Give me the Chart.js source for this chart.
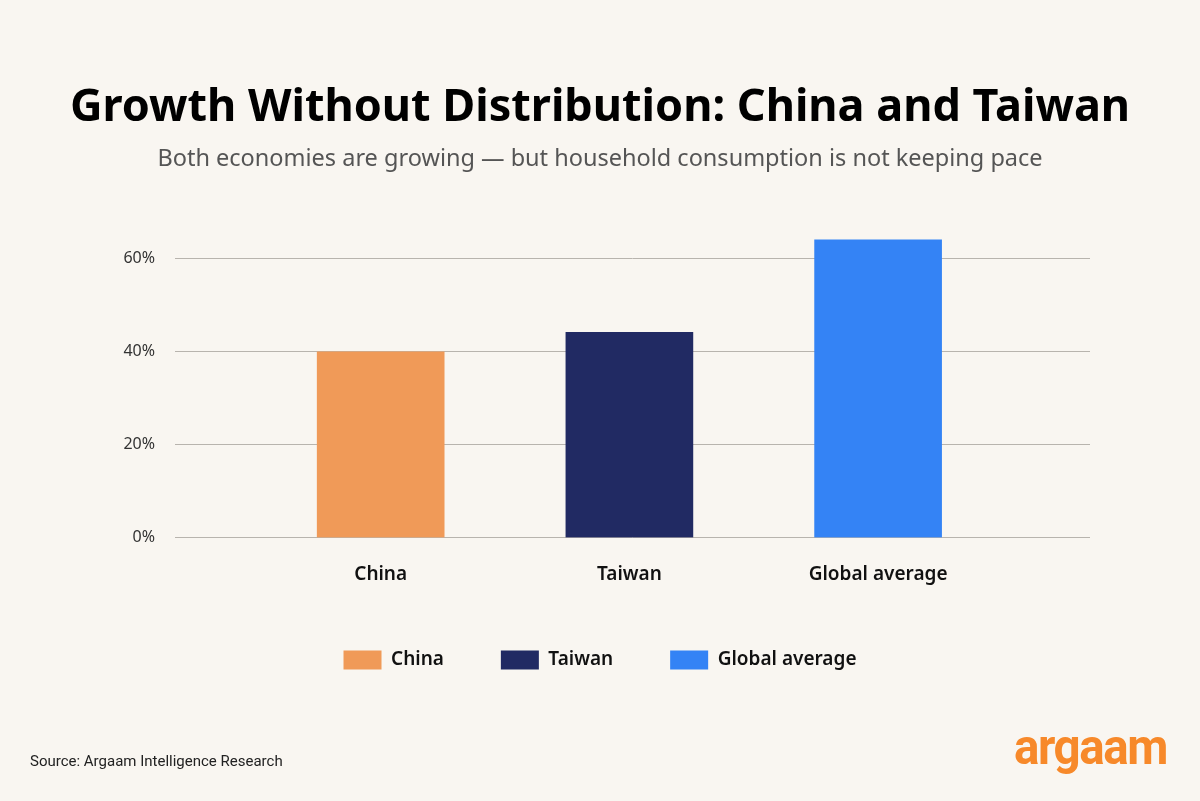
<!DOCTYPE html>
<html>
<head>
<meta charset="utf-8">
<script src="https://cdn.jsdelivr.net/npm/chart.js@4.4.1/dist/chart.umd.min.js"></script>
<style>
  html, body { margin: 0; padding: 0; background: #f9f6f1; }
  body { width: 1200px; height: 801px; position: relative; overflow: hidden; font-family: Roboto, sans-serif; }
  #chart { position: absolute; left: 0; top: 0; }
  .source { position: absolute; left: 30px; top: 752px; font-size: 15px; color: #222; }
  .logo { position: absolute; left: 1014px; top: 718px; font-size: 50px; font-weight: 700; color: #f7892a; letter-spacing: -1.5px; transform-origin: left top; transform: scaleX(0.95); }
</style>
</head>
<body>
<canvas id="chart" width="1200" height="801"></canvas>
<div class="source">Source: Argaam Intelligence Research</div>
<div class="logo">argaam</div>
<script>
const categories = ['China', 'Taiwan', 'Global average'];
const shareValues = [40, 44.2, 64.1];
const barColors = ['#f09a58', '#212a63', '#3483f5'];
const yTicks = [0, 20, 40, 60];

function chartConstruct() {
    let ctx = document.getElementById('chart').getContext('2d');

    let datasets = categories.map((name, i) => ({
        label: name,
        data: [{x: i, y: shareValues[i]}],
        backgroundColor: barColors[i],
        borderWidth: 0,
        barThickness: 127,
        grouped: false
    }));

    new Chart(ctx, {
        type: 'bar',
        data: {datasets: datasets},
        options: {
            responsive: false,
            animation: false,
            devicePixelRatio: 1,
            layout: {
                padding: {left: 30, right: 30, top: 0, bottom: 121.5}
            },
            scales: {
                x: {
                    type: 'linear',
                    offset: false,
                    min: -0.827,
                    max: 2.852,
                    grid: {display: false},
                    border: {display: false},
                    afterBuildTicks: (axis) => {
                        axis.ticks = categories.map((c, i) => ({value: i}));
                    },
                    afterFit: (axis) => {
                        axis.height -= 10;
                    },
                    ticks: {
                        padding: 17.5,
                        color: '#111',
                        font: {family: 'Noto Sans', size: 19, weight: '600'},
                        callback: (v) => categories[v]
                    }
                },
                y: {
                    min: 0,
                    max: 65,
                    grid: {color: '#b8b4ae', lineWidth: 1, drawTicks: false},
                    border: {display: false},
                    afterBuildTicks: (axis) => {
                        axis.ticks = yTicks.map(v => ({value: v}));
                    },
                    afterFit: (axis) => {
                        axis.width = 145;
                    },
                    ticks: {
                        padding: 20,
                        color: '#333',
                        font: {family: 'Noto Sans', size: 16},
                        callback: (v) => v + '%'
                    }
                },
                // empty strip on the right so the plot ends where the reference does
                yRight: {
                    position: 'right',
                    grid: {display: false},
                    border: {display: false},
                    ticks: {display: false},
                    afterFit: (axis) => {
                        axis.width = 80;
                    }
                }
            },
            plugins: {
                title: {
                    display: true,
                    text: 'Growth Without Distribution: China and Taiwan',
                    color: '#000',
                    font: {family: 'Noto Sans', size: 45, weight: 'bold'},
                    padding: {top: 81, bottom: 0}
                },
                subtitle: {
                    display: true,
                    text: 'Both economies are growing \u2014 but household consumption is not keeping pace',
                    color: '#555',
                    font: {family: 'Noto Sans', size: 23.5},
                    padding: {top: 10, bottom: 62.5}
                },
                legend: {
                    position: 'bottom',
                    labels: {
                        boxWidth: 38,
                        boxHeight: 19,
                        padding: 57,
                        color: '#111',
                        font: {family: 'Noto Sans', size: 19, weight: '600'}
                    }
                },
                tooltip: {enabled: false}
            }
        }
    });
}

chartConstruct();
</script>
</body>
</html>
